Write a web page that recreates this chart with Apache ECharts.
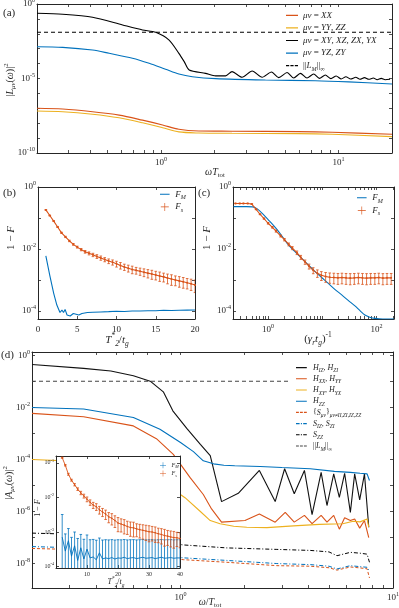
<!DOCTYPE html>
<html>
<head>
<meta charset="utf-8">
<script src="https://cdn.jsdelivr.net/npm/echarts@6/dist/echarts.min.js"></script>
<style>
html, body { margin: 0; padding: 0; background: #fff; }
#main { width: 399px; height: 608px; }
</style>
</head>
<body>
<div id="main"></div>
<script>
// ---------- panel (a) ----------
var aBlackX = [0.2, 0.279, 0.411, 0.607, 0.786, 0.933, 1.11, 1.26, 1.35, 1.44, 1.78, 2.03, 2.31, 2.51, 2.86, 3.26, 3.71, 4.19, 4.6, 5.13,
    5.59, 6.09, 6.64, 7.24, 7.8, 8.42, 9.06, 9.7, 10.35, 11.0, 11.7, 12.5, 13.2, 14.0, 14.8, 15.7, 16.5, 17.4, 18.3, 19.5];
var aBlackY = [0.24, 0.204, 0.129, 0.039, 0.018, 0.0126, 3.8e-3, 4.9e-4, 1.35e-4, 3.7e-5, 2.2e-5, 1.5e-5, 1.5e-5, 2.9e-5, 1.2e-5, 3.2e-5, 1.2e-5, 2.7e-5, 1.15e-5, 2.5e-5,
    1.07e-5, 2.2e-5, 1.07e-5, 2.0e-5, 1.02e-5, 1.7e-5, 9.8e-6, 1.48e-5, 9.3e-6, 1.3e-5, 9.3e-6, 1.2e-5, 8.9e-6, 1.15e-5, 8.9e-6, 1.07e-5, 8.3e-6, 1.02e-5, 8.3e-6, 8.9e-6];
var aBlueX = [0.2, 0.279, 0.411, 0.51, 0.69, 0.857, 1.06, 1.26, 1.5, 2.03, 3.87, 7.4, 11.4, 20];
var aBlueY = [1.35e-3, 1.23e-3, 8.1e-4, 4.9e-4, 2.3e-4, 1.05e-4, 4.2e-5, 2.0e-5, 1.32e-5, 9.8e-6, 7.9e-6, 7.1e-6, 5.9e-6, 4.3e-6];
var aRedX = [0.2, 0.279, 0.411, 0.58, 0.786, 1.02, 1.26, 1.63, 2.51, 5.96, 9.2, 20];
var aRedY = [1.0e-7, 8.9e-8, 5.9e-8, 3.5e-8, 1.6e-8, 7.6e-9, 3.9e-9, 3.0e-9, 2.9e-9, 2.7e-9, 2.45e-9, 1.8e-9];
var aYelY = [6.6e-8, 5.9e-8, 4.0e-8, 2.3e-8, 1.07e-8, 5.0e-9, 2.6e-9, 2.2e-9, 2.1e-9, 2.0e-9, 1.8e-9, 1.26e-9];
var aNormX = [0.2, 20];
var aNormY = [0.0126, 0.0126];

// ---------- panel (b) ----------
var bFsX = [1, 1.5, 2, 2.5, 3, 3.5, 4, 4.5, 5, 5.5, 6, 6.5, 7, 7.5, 8, 8.5, 9, 9.5, 10, 10.5,
    11, 11.5, 12, 12.5, 13, 13.5, 14, 14.5, 15, 15.5, 16, 16.5, 17, 17.5, 18, 18.5, 19, 19.5, 20];
var bFsY = [0.182, 0.12, 0.0794, 0.0513, 0.0331, 0.0245, 0.0182, 0.0141, 0.0115, 0.00955, 0.00813, 0.00724, 0.00646, 0.00575, 0.00513, 0.00457, 0.00407, 0.00372, 0.00331, 0.00295,
    0.00263, 0.0024, 0.00219, 0.00204, 0.00191, 0.00178, 0.00166, 0.00155, 0.00145, 0.00135, 0.00126, 0.00115, 0.00107, 0.001, 0.000933, 0.000871, 0.000813, 0.000759, 0.000692];
var bFsErr = [0.004, 0.003, 0.0025, 0.002, 0.0015, 0.0012, 0.001, 0.0009, 0.0008, 0.0008, 0.0008, 0.0008, 0.0008, 0.0008, 0.0008, 0.0007, 0.0007, 0.0007, 0.0007, 0.0007,
    0.0006, 0.0006, 0.0006, 0.0005, 0.0005, 0.0005, 0.0005, 0.0005, 0.00045, 0.00045, 0.0004, 0.0004, 0.0004, 0.00035, 0.00035, 0.00033, 0.0003, 0.0003, 0.0003];
var bFmX = [1, 1.5, 2, 2.4, 2.8, 3.05, 3.25, 3.45, 3.7, 4.1, 4.5, 5.2, 5.6, 6.3, 7, 8, 9, 10, 11, 12, 13, 14, 15, 16, 17, 18, 19, 20];
var bFmY = [6.0e-3, 1.41e-3, 3.7e-4, 1.55e-4, 8.9e-5, 1.07e-4, 8.9e-5, 1.12e-4, 7.4e-5, 6.9e-5, 8.3e-5, 7.4e-5, 8.3e-5, 8.9e-5, 9.1e-5, 9.3e-5, 9.5e-5, 9.8e-5, 9.6e-5, 1.0e-4,
    1.0e-4, 1.02e-4, 1.01e-4, 1.05e-4, 1.04e-4, 1.05e-4, 1.06e-4, 1.07e-4];

// ---------- panel (c) ----------
var cFmX = [0.23, 0.4, 0.52, 0.62, 0.78, 1.0, 1.35, 1.8, 2.37, 3.1, 4.17, 5.5, 7.33, 9.7, 12.9, 17, 22.8, 30, 40, 50, 61, 75, 93.6, 130, 209];
var cFmY = [0.232, 0.232, 0.229, 0.2, 0.141, 0.0891, 0.0501, 0.0263, 0.0135, 8.3e-3, 5.0e-3, 3.09e-3, 1.86e-3, 1.2e-3, 7.76e-4, 5.0e-4, 3.31e-4, 2.19e-4, 1.45e-4, 1.0e-4,
    7.4e-5, 6.3e-5, 5.75e-5, 5.5e-5, 5.5e-5];
var cFsX = [0.25, 0.3, 0.35, 0.42, 0.5, 0.6, 0.71, 0.84, 1.0, 1.2, 1.4, 1.7, 2.0, 2.4, 2.8, 3.4, 4.0, 4.8, 5.7, 6.8,
    8.1, 9.6, 11.5, 13.7, 16.3, 19.4, 23, 27.4, 32.7, 38.9, 46.3, 55, 65.5, 78, 93, 110, 131, 156, 186];
var cFsY = [0.295, 0.295, 0.295, 0.295, 0.282, 0.19, 0.132, 0.0955, 0.0676, 0.0501, 0.038, 0.0263, 0.02, 0.0141, 0.0107, 7.6e-3, 5.4e-3, 3.8e-3, 2.75e-3, 2.04e-3,
    1.66e-3, 1.41e-3, 1.29e-3, 1.23e-3, 1.2e-3, 1.17e-3, 1.2e-3, 1.17e-3, 1.15e-3, 1.17e-3, 1.2e-3, 1.17e-3, 1.15e-3, 1.17e-3, 1.17e-3, 1.2e-3, 1.15e-3, 1.17e-3, 1.17e-3];
var cFsErr = [0.005, 0.005, 0.005, 0.005, 0.005, 0.005, 0.004, 0.004, 0.004, 0.003, 0.003, 0.002, 0.0018, 0.0015, 0.0012, 0.001, 0.0008, 0.0006, 0.0005, 0.00045,
    0.00045, 0.00045, 0.00045, 0.00045, 0.00045, 0.00045, 0.00045, 0.00045, 0.00045, 0.00045, 0.00045, 0.00045, 0.00045, 0.00045, 0.00045, 0.00045, 0.00045, 0.00045, 0.00045];

// ---------- panel (d) ----------
var dHizX = [0.2, 0.35, 0.47, 0.6, 0.72, 0.83, 0.92, 1.07, 1.24, 1.38, 1.56, 1.87, 2.35, 2.79, 3.09, 3.43, 3.83, 4.16, 4.59, 4.89, 5.26, 5.59, 5.92, 6.3, 6.6, 6.97, 7.34, 7.69];
var dHizY = [0.447, 0.316, 0.251, 0.166, 0.102, 0.0398, 7.4e-3, 1.58e-3, 3.8e-4, 1.41e-4, 2.4e-6, 5.0e-6, 3.8e-5, 2.4e-6, 4.4e-5, 4.8e-6, 3.8e-5, 7.6e-7, 3.2e-5, 1.7e-6,
    2.8e-5, 3.5e-6, 2.95e-5, 9.3e-7, 2.8e-5, 2.8e-6, 2.8e-5, 2.5e-7];
var dHzzX = [0.2, 0.35, 0.6, 0.8, 1.0, 1.15, 1.28, 1.43, 1.6, 1.8, 2.37, 3.0, 4.08, 5.3, 6.3, 7.0, 7.55, 7.75];
var dHzzY = [0.01, 8.7e-3, 4.1e-3, 1.45e-3, 4.5e-4, 2.0e-4, 8.9e-5, 6.8e-5, 6.0e-5, 5.75e-5, 5.4e-5, 4.9e-5, 4.4e-5, 3.5e-5, 3.2e-5, 2.95e-5, 2.8e-5, 1.55e-5];
var dHxxX = [0.2, 0.35, 0.6, 0.77, 0.925, 1.11, 1.28, 1.4, 1.56, 2.01, 2.35, 2.79, 3.11, 3.43, 3.83, 4.16, 4.59, 4.89, 5.26, 5.59, 5.92, 6.3, 6.6, 6.97, 7.34, 7.69];
var dHxxY = [5.9e-3, 4.4e-3, 1.95e-3, 6.3e-4, 1.58e-4, 2.0e-5, 4.5e-6, 1.26e-6, 3.9e-7, 4.5e-7, 8.1e-7, 3.9e-7, 9.3e-7, 3.9e-7, 7.1e-7, 3.4e-7, 7.1e-7, 3.9e-7, 7.1e-7, 2.1e-7,
    5.8e-7, 4.5e-7, 5.2e-7, 2.3e-7, 4.5e-7, 1.0e-7];
var dHxyX = [0.2, 0.35, 0.6, 0.8, 1.05, 1.24, 1.38, 1.535, 1.78, 2.05, 2.55, 3.4, 4.5, 5.8, 6.5, 7.0, 7.55, 7.69];
var dHxyY = [1.0e-4, 8.3e-5, 4.5e-5, 1.58e-5, 3.4e-6, 1.0e-6, 4.5e-7, 3.4e-7, 2.7e-7, 2.5e-7, 2.4e-7, 2.8e-7, 3.2e-7, 3.4e-7, 4.2e-7, 4.0e-7, 5.2e-7, 2.5e-7];
var dSX = [0.2, 0.4, 0.7, 1.03, 1.65, 2.84, 4.08, 5.0, 5.45, 6.3, 7.0, 7.55, 7.75];
var dSzzY = [1.48e-7, 1.26e-7, 7.9e-8, 5.2e-8, 4.0e-8, 3.5e-8, 3.2e-8, 2.8e-8, 2.0e-8, 2.7e-8, 2.5e-8, 2.3e-8, 1.12e-8];
var dSizY = [4.5e-8, 3.8e-8, 2.5e-8, 1.66e-8, 1.32e-8, 1.0e-8, 9.1e-9, 7.9e-9, 6.2e-9, 8.3e-9, 7.6e-9, 7.2e-9, 5.0e-9];
var dSmnY = [3.8e-8, 3.3e-8, 2.2e-8, 1.41e-8, 1.12e-8, 8.3e-9, 7.9e-9, 6.9e-9, 5.6e-9, 7.4e-9, 6.8e-9, 6.3e-9, 2.8e-9];
var dNormX = [0.2, 3.3];
var dNormY = [0.102, 0.102];

// ---------- inset of (d) ----------
var iX = [2, 3, 4, 5, 6, 7, 8, 9, 10, 11, 12, 13, 14, 15, 16, 17, 18, 19, 20, 21,
    22, 23, 24, 25, 26, 27, 28, 29, 30, 31, 32, 33, 34, 35, 36, 37, 38, 39, 40];
var iFsY = [0.141, 0.0851, 0.0468, 0.0316, 0.0234, 0.0174, 0.0135, 0.011, 8.9e-3, 7.2e-3, 6.0e-3, 5.4e-3, 4.4e-3, 3.8e-3, 3.3e-3, 2.75e-3, 2.5e-3, 2.15e-3, 1.82e-3, 1.7e-3,
    1.58e-3, 1.45e-3, 1.35e-3, 1.32e-3, 1.23e-3, 1.17e-3, 1.12e-3, 1.07e-3, 1.02e-3, 1.0e-3, 9.5e-4, 8.9e-4, 8.5e-4, 7.9e-4, 7.6e-4, 7.2e-4, 6.9e-4, 6.8e-4, 6.5e-4];
var iFsErr = [0.005, 0.004, 0.003, 0.002, 0.0018, 0.0015, 0.0015, 0.0014, 0.0014, 0.0013, 0.0012, 0.0012, 0.0011, 0.001, 0.001, 0.0009, 0.0009, 0.0008, 0.0008, 0.0007,
    0.0007, 0.0006, 0.0006, 0.0006, 0.0005, 0.0005, 0.0005, 0.0005, 0.0005, 0.00045, 0.00045, 0.0004, 0.0004, 0.0004, 0.00035, 0.00035, 0.00035, 0.0003, 0.0003];
var iFmY = [7.1e-4, 2.8e-4, 5.6e-4, 2.0e-4, 4.0e-4, 1.5e-4, 3.5e-4, 1.66e-4, 3.2e-4, 1.78e-4, 1.9e-4, 1.58e-4, 2.5e-4, 1.66e-4, 1.78e-4, 1.7e-4, 1.82e-4, 1.66e-4, 1.78e-4, 1.74e-4,
    1.86e-4, 1.7e-4, 1.78e-4, 1.82e-4, 1.7e-4, 1.78e-4, 1.86e-4, 1.74e-4, 1.78e-4, 1.82e-4, 1.7e-4, 1.78e-4, 1.86e-4, 1.74e-4, 1.78e-4, 1.82e-4, 1.74e-4, 1.78e-4, 1.78e-4];
var iFmErr = [2.5e-3, 6e-4, 7e-4, 5e-4, 6e-4, 5e-4, 5e-4, 4.5e-4, 5e-4, 4.2e-4, 4.2e-4, 4.2e-4, 4.2e-4, 4.2e-4, 4.2e-4, 4.2e-4, 4.2e-4, 4.2e-4, 4.2e-4, 4.2e-4,
    4.2e-4, 4.2e-4, 4.2e-4, 4.2e-4, 4.2e-4, 4.2e-4, 4.2e-4, 4.2e-4, 4.2e-4, 4.2e-4, 4.2e-4, 4.2e-4, 4.2e-4, 4.2e-4, 4.2e-4, 4.2e-4, 4.2e-4, 4.2e-4, 4.2e-4];

// ---------- tick positions / labels ----------
var logMinorA = [0.2, 0.3, 0.4, 0.5, 0.6, 0.7, 0.8, 0.9, 1, 2, 3, 4, 5, 6, 7, 8, 9, 10, 20];
var decadesA = [1e-10, 1e-9, 1e-8, 1e-7, 1e-6, 1e-5, 1e-4, 1e-3, 1e-2, 1e-1, 1];
var labelsAy = [1e-10, 1e-5, 1];
var labelsDecX = [1, 10];
var linTicksB = [0, 5, 10, 15, 20];
var decadesB = [1e-4, 1e-3, 1e-2, 1e-1, 1];
var labelsBy = [1e-4, 1e-2, 1];
var logTicksC = [0.3, 0.4, 0.5, 0.6, 0.7, 0.8, 0.9, 1, 2, 3, 4, 5, 6, 7, 8, 9, 10, 20, 30, 40, 50, 60, 70, 80, 90, 100, 200];
var labelsCx = [1, 100];
var logTicksD = [0.2, 0.3, 0.4, 0.5, 0.6, 0.7, 0.8, 0.9, 1, 2, 3, 4, 5, 6, 7, 8, 9, 10];
var decadesD = [1e-9, 1e-8, 1e-7, 1e-6, 1e-5, 1e-4, 1e-3, 1e-2, 1e-1, 1];
var labelsDy = [1e-8, 1e-6, 1e-4, 1e-2, 1];
var linTicksI = [0, 10, 20, 30, 40];
var labelsIx = [10, 20, 30, 40];
var decadesI = [1e-4, 1e-3, 1e-2, 1e-1];

var SERIF = '"Liberation Serif", "DejaVu Serif", serif';
var INK = '#262626';
var BLUE = '#0072BD', RED = '#D95319', YEL = '#EDB120', BLK = '#000000';

// rich text styles; key is 'color' for echarts components, 'fill' for raw graphic text
function richFor(fs, key) {
    key = key || 'color';
    function st(o) { o[key] = INK; o.fontFamily = SERIF; return o; }
    return {
        i: st({ fontStyle: 'italic', fontSize: fs, lineHeight: fs * 1.4 }),
        r: st({ fontStyle: 'normal', fontSize: fs, lineHeight: fs * 1.4 }),
        sub: st({ fontStyle: 'italic', fontSize: fs * 0.68, lineHeight: fs * 0.7, verticalAlign: 'bottom' }),
        subr: st({ fontStyle: 'normal', fontSize: fs * 0.68, lineHeight: fs * 0.7, verticalAlign: 'bottom' }),
        sup: st({ fontStyle: 'normal', fontSize: fs * 0.68, lineHeight: fs * 0.7, verticalAlign: 'top' })
    };
}

function powLabel(v) {
    var l = Math.log10(v);
    var e = Math.round(l);
    if (Math.abs(l - e) > 1e-6) return '';
    return '10{sup|' + e + '}';
}
function plainLabel(v) {
    return String(v);
}

function zip(xs, ys) {
    return xs.map(function (x, k) { return [x, ys[k]]; });
}

var xAxes = [], yAxes = [];

function axisCfg(grid, pos, s, main, z) {
    var a = {
        gridIndex: grid,
        position: pos,
        type: s.type,
        min: s.min,
        max: s.max,
        z: z,
        axisLine: { show: true, onZero: false, lineStyle: { color: INK, width: 1 } },
        axisTick: { show: true, inside: true, length: 3, customValues: s.ticks, lineStyle: { color: INK, width: 0.8 } },
        axisLabel: {
            show: main,
            customValues: s.labels,
            formatter: s.fmt,
            margin: s.margin,
            fontFamily: SERIF,
            fontSize: s.fs,
            lineHeight: s.fs * 1.4,
            color: INK,
            rich: richFor(s.fs)
        },
        splitLine: { show: false },
        minorTick: { show: false }
    };
    return a;
}

function frame(grid, xs, ys, z) {
    var idx = [xAxes.length, yAxes.length];
    xAxes.push(axisCfg(grid, 'bottom', xs, true, z));
    xAxes.push(axisCfg(grid, 'top', xs, false, z));
    yAxes.push(axisCfg(grid, 'left', ys, true, z));
    yAxes.push(axisCfg(grid, 'right', ys, false, z));
    return idx;
}

var A = frame(0,
    { type: 'log', min: 0.2, max: 20, ticks: logMinorA, labels: labelsDecX, fmt: powLabel, fs: 9, margin: 3 },
    { type: 'log', min: 1e-10, max: 1, ticks: decadesA, labels: labelsAy, fmt: powLabel, fs: 9, margin: 2 }, 1);
var B = frame(1,
    { type: 'value', min: 0, max: 20, ticks: linTicksB, labels: linTicksB, fmt: plainLabel, fs: 9, margin: 4 },
    { type: 'log', min: 5.5e-5, max: 1, ticks: decadesB, labels: labelsBy, fmt: powLabel, fs: 9, margin: 2 }, 1);
var C = frame(2,
    { type: 'log', min: 0.225, max: 210, ticks: logTicksC, labels: labelsCx, fmt: powLabel, fs: 9, margin: 4 },
    { type: 'log', min: 5.5e-5, max: 1, ticks: decadesB, labels: labelsBy, fmt: powLabel, fs: 9, margin: 2 }, 1);
var D = frame(3,
    { type: 'log', min: 0.2, max: 10, ticks: logTicksD, labels: labelsDecX, fmt: powLabel, fs: 9, margin: 3 },
    { type: 'log', min: 1.15e-9, max: 1.35, ticks: decadesD, labels: labelsDy, fmt: powLabel, fs: 9, margin: 2 }, 1);
var I = frame(4,
    { type: 'value', min: 0, max: 40, ticks: linTicksI, labels: labelsIx, fmt: plainLabel, fs: 6, margin: 2 },
    { type: 'log', min: 9.1e-5, max: 0.158, ticks: decadesI, labels: decadesI, fmt: powLabel, fs: 6, margin: 2 }, 11);

function line(name, xs, ys, ax, color, extra) {
    var s = {
        name: name,
        type: 'line',
        xAxisIndex: ax[0],
        yAxisIndex: ax[1],
        data: zip(xs, ys),
        symbol: 'none',
        lineStyle: { color: color, width: 1.1 },
        itemStyle: { color: color },
        z: 2,
        silent: true
    };
    if (extra) {
        for (var k in extra) s[k] = extra[k];
    }
    return s;
}

function errBars(xs, ys, es, ax, color, floor, z) {
    return {
        type: 'custom',
        xAxisIndex: ax[0],
        yAxisIndex: ax[1],
        z: z,
        silent: true,
        clip: true,
        data: xs.map(function (x, k) { return [x, ys[k], es[k]]; }),
        renderItem: function (params, api) {
            var x = api.value(0), y = api.value(1), e = api.value(2);
            var p1 = api.coord([x, y + e]);
            var p2 = api.coord([x, Math.max(y - e, floor)]);
            var w = 1.3;
            var st = { stroke: color, lineWidth: 0.8, fill: null };
            return {
                type: 'group',
                children: [
                    { type: 'line', shape: { x1: p1[0], y1: p1[1], x2: p2[0], y2: p2[1] }, style: st },
                    { type: 'line', shape: { x1: p1[0] - w, y1: p1[1], x2: p1[0] + w, y2: p1[1] }, style: st },
                    { type: 'line', shape: { x1: p2[0] - w, y1: p2[1], x2: p2[0] + w, y2: p2[1] }, style: st }
                ]
            };
        }
    };
}

var dots = { symbol: 'circle', symbolSize: 2, showSymbol: true };
var dashDot = [4, 2, 1, 2];

var series = [
    // (a)
    line('aXX', aRedX, aRedY, A, RED, { smooth: 0.3 }),
    line('aYY', aRedX, aYelY, A, YEL, { smooth: 0.3 }),
    line('aXY', aBlackX, aBlackY, A, BLK, { smooth: 0.25 }),
    line('aYZ', aBlueX, aBlueY, A, BLUE, { smooth: 0.3 }),
    line('aLM', aNormX, aNormY, A, BLK, { lineStyle: { color: BLK, width: 1.1, type: [4, 3] } }),
    // (b)
    line('bFM', bFmX, bFmY, B, BLUE),
    errBars(bFsX, bFsY, bFsErr, B, RED, 1e-6, 3),
    line('bFs', bFsX, bFsY, B, RED, dots),
    // (c)
    line('cFM', cFmX, cFmY, C, BLUE, { smooth: 0.3 }),
    errBars(cFsX, cFsY, cFsErr, C, RED, 1e-6, 3),
    line('cFs', cFsX, cFsY, C, RED, dots),
    // (d)
    line('dHIZ', dHizX, dHizY, D, '#111111'),
    line('dHXX', dHxxX, dHxxY, D, RED),
    line('dHXY', dHxyX, dHxyY, D, YEL),
    line('dHZZ', dHzzX, dHzzY, D, BLUE),
    line('dSmn', dSX, dSmnY, D, RED, { lineStyle: { color: RED, width: 1, type: [3, 2] } }),
    line('dSIZ', dSX, dSizY, D, BLUE, { lineStyle: { color: BLUE, width: 1, type: dashDot } }),
    line('dSZZ', dSX, dSzzY, D, BLK, { lineStyle: { color: BLK, width: 1, type: dashDot } }),
    line('dLM', dNormX, dNormY, D, '#444444', { lineStyle: { color: '#444444', width: 1.1, type: [4, 3] } }),
    // inset
    errBars(iX, iFmY, iFmErr, I, BLUE, 1e-6, 12),
    line('iFM', iX, iFmY, I, BLUE, { z: 13, lineStyle: { color: BLUE, width: 0.9 } }),
    errBars(iX, iFsY, iFsErr, I, RED, 1e-6, 12),
    line('iFs', iX, iFsY, I, RED, { z: 13, symbol: 'circle', symbolSize: 1.6, showSymbol: true, lineStyle: { color: RED, width: 0.9 } })
];

var legendLabels = {
    aXX: '{i|μν} = {i|XX}',
    aYY: '{i|μν} = {i|YY}, {i|ZZ}',
    aXY: '{i|μν} = {i|XY}, {i|XZ}, {i|ZX}, {i|YX}',
    aYZ: '{i|μν} = {i|YZ}, {i|ZY}',
    aLM: '||{i|L}{sub|M}||{subr|∞}',
    bFM: '{i|F}{sub|M}', bFs: '{i|F}{sub|s}',
    cFM: '{i|F}{sub|M}', cFs: '{i|F}{sub|s}',
    iFM: '{i|F}{sub|M}', iFs: '{i|F}{sub|s}',
    dHIZ: '{i|H}{sub|IZ}, {i|H}{sub|ZI}',
    dHXX: '{i|H}{sub|XX}, {i|H}{sub|YY}',
    dHXY: '{i|H}{sub|XY}, {i|H}{sub|YX}',
    dHZZ: '{i|H}{sub|ZZ}',
    dSmn: '{r|{}{i|S}{sub|μν}}{sub|μν≠II,ZI,IZ,ZZ}',
    dSIZ: '{i|S}{sub|IZ}, {i|S}{sub|ZI}',
    dSZZ: '{i|S}{sub|ZZ}',
    dLM: '||{i|L}{sub|M}||{subr|∞}'
};
function legendFmt(name) { return legendLabels[name] || name; }

// legend glyphs: tiny corner squares fix the 12x10 box so the bar keeps its thickness
var solidIcon = 'path://M0,0h.01v.01h-.01z M0,4.4h12v1.2h-12z M11.99,9.99h.01v.01h-.01z';
var dashIcon = 'path://M0,0h.01v.01h-.01z M0,4.4h3.2v1.2h-3.2z M4.4,4.4h3.2v1.2h-3.2z M8.8,4.4h3.2v1.2h-3.2z M11.99,9.99h.01v.01h-.01z';
var dashDotIcon = 'path://M0,0h.01v.01h-.01z M0,4.4h4v1.2h-4z M5.4,4.4h1.2v1.2h-1.2z M8,4.4h4v1.2h-4z M11.99,9.99h.01v.01h-.01z';
var ebIcon = 'path://M0,4.6h10v0.8h-10z M4.6,0h0.8v10h-0.8z';

function legendCfg(left, top, fs, rowH, iw, ih, data, z) {
    return {
        left: left, top: top, orient: 'vertical',
        itemWidth: iw, itemHeight: ih, itemGap: 0,
        selectedMode: false, z: z || 4,
        data: data,
        formatter: legendFmt,
        textStyle: { fontFamily: SERIF, fontSize: fs, lineHeight: rowH, color: INK, rich: richFor(fs) },
        padding: 0
    };
}

// axis titles as rotated / centred text
function title(text, x, y, fs, vertical, z) {
    return {
        type: 'text', x: x, y: y, z: z || 20, silent: true,
        rotation: vertical ? Math.PI / 2 : 0,
        style: {
            text: text, fontFamily: SERIF, fontSize: fs, lineHeight: fs * 1.4, fill: INK,
            align: 'center', verticalAlign: 'middle', rich: richFor(fs, 'fill')
        }
    };
}
function panelTag(text, x, y) {
    return { type: 'text', x: x, y: y, z: 20, silent: true,
        style: { text: text, fontFamily: SERIF, fontSize: 11, fill: INK, verticalAlign: 'middle' } };
}

var option = {
    animation: false,
    backgroundColor: '#ffffff',
    grid: [
        { left: 37, top: 4, width: 355, height: 149, outerBoundsMode: 'none' },
        { left: 38, top: 187, width: 157, height: 132, outerBoundsMode: 'none' },
        { left: 233, top: 187, width: 161, height: 132, outerBoundsMode: 'none' },
        { left: 32, top: 352, width: 361, height: 236, outerBoundsMode: 'none' },
        { left: 56, top: 456, width: 124, height: 112, outerBoundsMode: 'none', show: true, backgroundColor: '#ffffff', borderWidth: 0, z: 10 }
    ],
    xAxis: xAxes,
    yAxis: yAxes,
    legend: [
        legendCfg(286, 9, 9, 11.3, 12, 10, [
            { name: 'aXX', icon: solidIcon }, { name: 'aYY', icon: solidIcon }, { name: 'aXY', icon: solidIcon },
            { name: 'aYZ', icon: solidIcon }, { name: 'aLM', icon: dashIcon }]),
        legendCfg(160, 188, 9, 10, 11, 8, [{ name: 'bFM', icon: solidIcon }, { name: 'bFs', icon: ebIcon }]),
        legendCfg(357, 191.5, 9, 10, 11, 8, [{ name: 'cFM', icon: solidIcon }, { name: 'cFs', icon: ebIcon }]),
        legendCfg(296, 362, 8, 9.8, 13, 9, [
            { name: 'dHIZ', icon: solidIcon }, { name: 'dHXX', icon: solidIcon }, { name: 'dHXY', icon: solidIcon },
            { name: 'dHZZ', icon: solidIcon }, { name: 'dSmn', icon: dashIcon }, { name: 'dSIZ', icon: dashDotIcon },
            { name: 'dSZZ', icon: dashDotIcon }, { name: 'dLM', icon: dashIcon }]),
        legendCfg(160, 461, 6, 8, 7, 6, [{ name: 'iFM', icon: ebIcon }, { name: 'iFs', icon: ebIcon }], 14)
    ],
    graphic: [
        panelTag('(a)', 3, 13),
        panelTag('(b)', 3, 193),
        panelTag('(c)', 198, 193),
        panelTag('(d)', 1, 355),
        title('|{i|L}{sub|μν}({i|ω})|{sup|2}', 10, 80, 10, true),
        title('{i|ωT}{subr|tot}', 215, 172, 10, false),
        title('1 − {i|F}', 11, 238, 11, true),
        title('{i|T}{sup|*}{sub|2}/{i|t}{sub|g}', 117, 340, 11, false),
        title('1 − {i|F}', 207, 238, 11, true),
        title('({i|γ}{sub|r}{i|t}{sub|g}){sup|-1}', 318, 339, 11, false),
        title('|{i|A}{sub|μν}({i|ω})|{sup|2}', 9, 483, 10, true),
        title('{i|ω}/{i|T}{subr|tot}', 210, 602, 10, false),
        title('1 − {i|F}', 38, 508, 8, true),
        title('{i|T}{sup|*}{sub|2}/{i|t}{sub|g}', 116, 582, 8, false)
    ],
    series: series
};

var chart = echarts.init(document.getElementById('main'), null, { renderer: 'canvas' });
chart.setOption(option);
</script>
</body>
</html>
